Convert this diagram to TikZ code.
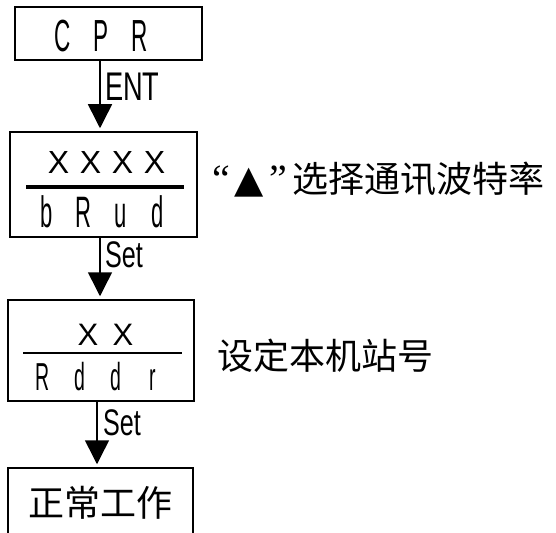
\documentclass[tikz,border=0pt]{standalone}
\usepackage{fontspec}
\usetikzlibrary{arrows.meta}
\newfontfamily\cjk{Noto Sans CJK SC}
\newfontfamily\segf[FakeStretch=0.5]{Liberation Sans}
\newfontfamily\segx{Liberation Sans}
\newfontfamily\labf[FakeStretch=0.68]{Liberation Sans}
\newfontfamily\dvs{DejaVu Sans}
\newfontfamily\libs{Liberation Serif}
\newcommand\sgl[2]{\makebox[#1]{#2}}
\tikzset{
  box/.style={draw, line width=1.5pt, rectangle, inner sep=0pt},
  seg/.style={inner sep=0pt, anchor=base},
  lbl/.style={inner sep=0pt, anchor=base west, font=\labf\fontsize{40pt}{40pt}\selectfont},
  arr/.style={line width=1.5pt, -{Triangle[width=24pt,length=24pt]}, shorten >=3pt},
  cjktxt/.style={inner sep=0pt, anchor=base west, font=\cjk\fontsize{36pt}{36pt}\selectfont},
}
\begin{document}
\begin{tikzpicture}[x=1pt,y=-1pt]
\useasboundingbox (0,0) rectangle (556,532);
\clip (0,0) rectangle (556,532);
% boxes
\node[box, minimum width=187pt, minimum height=53pt] (b1) at (108.5,33.5) {};
\node[box, minimum width=187pt, minimum height=105pt] (b2) at (103.5,184.5) {};
\node[box, minimum width=186pt, minimum height=101pt] (b3) at (101,350.5) {};
\node[box, minimum width=185pt, minimum height=70pt, font=\cjk\fontsize{36pt}{36pt}\selectfont] (b4) at (100.5,503) {正常工作};
% separators
\draw[line width=3.5pt] (26,187) -- (184,187);
\draw[line width=1.5pt] (23,353) -- (182,353);
% segment texts
\node[seg, font=\segf\fontsize{45pt}{45pt}\selectfont] (t1) at (101,52) {\sgl{38.5pt}{C}\sgl{38.5pt}{P}\sgl{38.5pt}{R}};
\node[seg, font=\segx\fontsize{32pt}{32pt}\selectfont] (t2) at (106.5,173) {\sgl{32pt}{X}\sgl{32pt}{X}\sgl{32pt}{X}\sgl{32pt}{X}};
\node[seg, font=\segf\fontsize{44pt}{44pt}\selectfont] (t3) at (102,227) {\sgl{37pt}{b}\sgl{37pt}{R}\sgl{37pt}{u}\sgl{37pt}{d}};
\node[seg, font=\segx\fontsize{31pt}{31pt}\selectfont] (t4) at (105.5,345) {\sgl{35pt}{X}\sgl{35pt}{X}};
\node[seg, font=\segf\fontsize{39pt}{39pt}\selectfont] (t5) at (98,390) {\sgl{36.7pt}{R}\sgl{36.7pt}{d}\sgl{36.7pt}{d}\sgl{36.7pt}{r}};
% arrows
\coordinate (xa) at (100,0);
\coordinate (xb) at (97,0);
\draw[arr] (b1.south -| xa) -- (b2.north -| xa);
\draw[arr] (b2.south -| xa) -- (b3.north -| xa);
\draw[arr] (b3.south -| xb) -- (b4.north -| xb);
% labels
\node[lbl] (l1) at (105,100) {ENT};
\node[lbl, font=\labf\fontsize{37pt}{37pt}\selectfont] (l2) at (105,267) {Set};
\node[lbl, font=\labf\fontsize{37pt}{37pt}\selectfont] (l3) at (103,435) {Set};
% side notes
\node[cjktxt] (n1) at (212,192) {{\libs\fontsize{40pt}{40pt}\selectfont “}\hspace{5pt}{\dvs\fontsize{38pt}{38pt}\selectfont ▲}\hspace{5pt}{\libs\fontsize{40pt}{40pt}\selectfont ”}\hspace{6pt}选择通讯波特率};
\node[cjktxt] (n2) at (217,369) {设定本机站号};
\end{tikzpicture}
\end{document}
